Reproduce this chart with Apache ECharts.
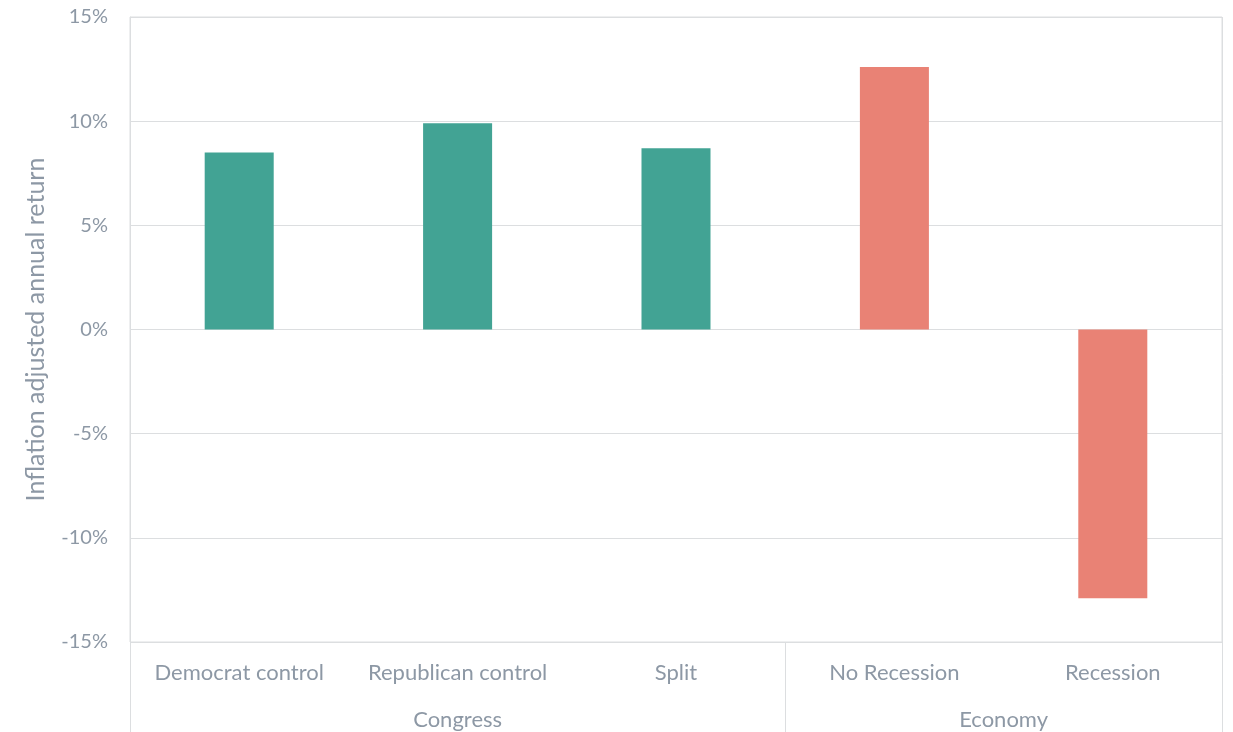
<!DOCTYPE html>
<html>
<head>
<meta charset="utf-8">
<script src="https://cdn.jsdelivr.net/npm/echarts@6/dist/echarts.min.js"></script>
<style>
  html, body { margin: 0; padding: 0; background: #fff; }
  #chart { width: 1233px; height: 732px; }
</style>
</head>
<body>
<div id="chart"></div>
<script>
// Inflation adjusted annual returns by political control and economic state
const categories = ['Democrat control', 'Republican control', 'Split', 'No Recession', 'Recession'];
const groupOf = ['Congress', 'Congress', 'Congress', 'Economy', 'Economy'];
const groups = ['Congress', 'Economy'];
const returns = [8.5, 9.9, 8.7, 12.6, -12.9];
const yTicks = [-15, -10, -5, 0, 5, 10, 15];

const groupColors = { Congress: '#42A394', Economy: '#E98275' };
const textColor = '#8D98A5';
const lineColor = '#DCDEE0';
const fontFamily = 'Lato, "Open Sans", sans-serif';

const chart = echarts.init(document.getElementById('chart'), null, { renderer: 'canvas' });

chart.setOption({
  animation: false,
  grid: {
    left: 130, right: 11, top: 17, bottom: 90,
    show: true, borderColor: lineColor, borderWidth: 1
  },
  xAxis: {
    type: 'category',
    data: categories,
    axisLine: { show: false },
    axisTick: { show: false },
    axisLabel: { color: textColor, fontSize: 22, fontFamily, margin: 20, interval: 0, hideOverlap: false }
  },
  yAxis: {
    type: 'value',
    min: yTicks[0],
    max: yTicks[yTicks.length - 1],
    interval: 5,
    name: 'Inflation adjusted annual return',
    nameLocation: 'middle',
    nameGap: 82,
    nameTextStyle: { color: textColor, fontSize: 25, fontFamily },
    axisLine: { show: true, lineStyle: { color: lineColor } },
    axisTick: { show: false },
    axisLabel: { color: textColor, fontSize: 20, fontFamily, margin: 22, formatter: '{value}%' },
    splitLine: { lineStyle: { color: lineColor, width: 1 } }
  },
  series: [{
    type: 'bar',
    barWidth: '31.6%',
    data: returns.map((v, i) => ({ value: v, itemStyle: { color: groupColors[groupOf[i]] } }))
  }]
});

// Group labels and separators beneath the category labels, placed from the axis scale
function drawGroups() {
  const c0 = chart.convertToPixel({ xAxisIndex: 0 }, categories[0]);
  const c1 = chart.convertToPixel({ xAxisIndex: 0 }, categories[1]);
  const band = c1 - c0;
  const yBottom = chart.convertToPixel({ yAxisIndex: 0 }, yTicks[0]);
  const yTop = chart.convertToPixel({ yAxisIndex: 0 }, yTicks[yTicks.length - 1]);
  const height = chart.getHeight();
  const elements = [];
  const edges = [0];
  groups.forEach(g => {
    const idx = groupOf.map((x, i) => x === g ? i : -1).filter(i => i >= 0);
    edges.push(idx[idx.length - 1] + 1);
    const left = c0 - band / 2 + idx[0] * band;
    const right = c0 - band / 2 + (idx[idx.length - 1] + 1) * band;
    elements.push({
      type: 'text',
      style: {
        text: g, x: (left + right) / 2, y: yBottom + 78,
        fill: textColor, font: '22px ' + fontFamily,
        textAlign: 'center', textVerticalAlign: 'middle'
      }
    });
  });
  edges.forEach((e, k) => {
    const x = Math.round(c0 - band / 2 + e * band) + 0.5;
    const isOuter = k === 0 || k === edges.length - 1;
    elements.push({
      type: 'line',
      shape: { x1: x, y1: isOuter ? yTop : yBottom, x2: x, y2: height },
      style: { stroke: lineColor, lineWidth: 1 },
      z: 0
    });
  });
  chart.setOption({ graphic: elements });
}
drawGroups();
</script>
</body>
</html>
